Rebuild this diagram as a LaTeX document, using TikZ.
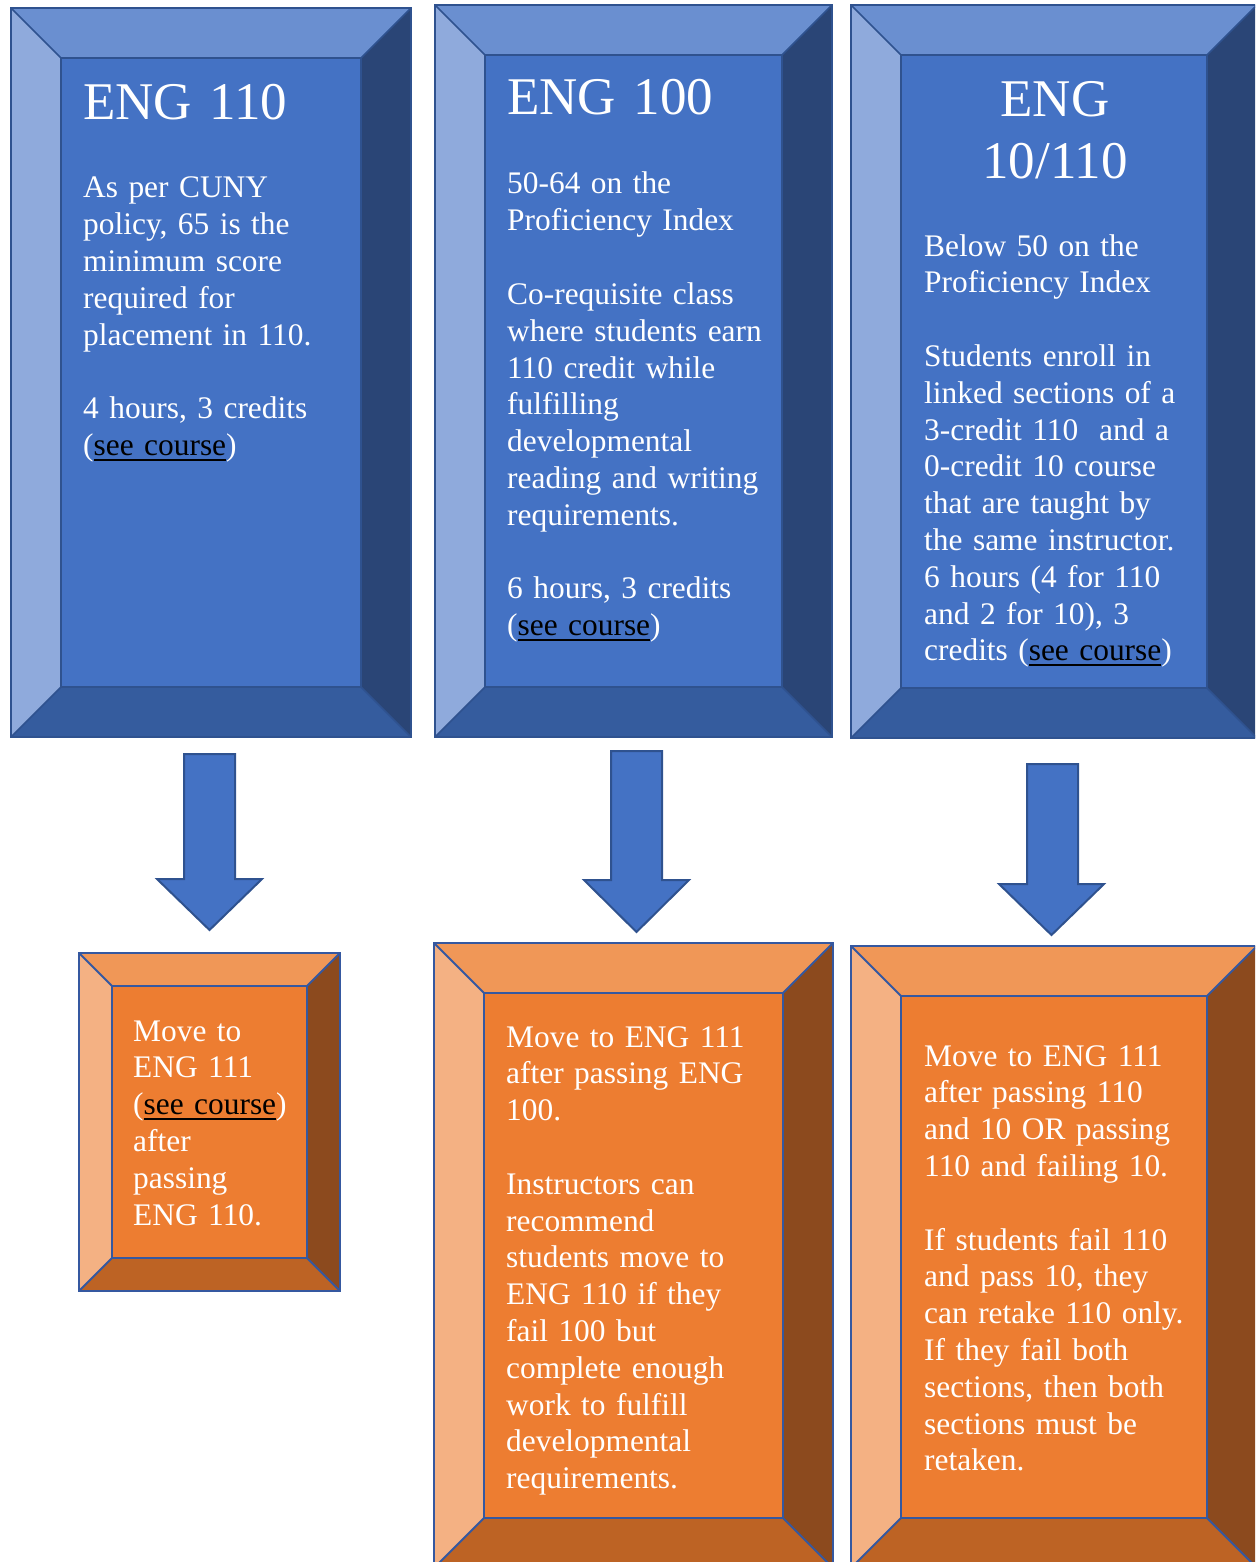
\documentclass[tikz,border=0pt]{standalone}
\usepackage{fontspec}
\setmainfont{Liberation Serif}
\definecolor{bmain}{HTML}{4472C4}
\definecolor{btop}{HTML}{6A8FD0}
\definecolor{bleft}{HTML}{8FAADC}
\definecolor{bright}{HTML}{2A4576}
\definecolor{bbot}{HTML}{355C9E}
\definecolor{bline}{HTML}{2F528F}
\definecolor{omain}{HTML}{ED7D31}
\definecolor{otop}{HTML}{F09757}
\definecolor{oleft}{HTML}{F4B183}
\definecolor{oright}{HTML}{8C4A1E}
\definecolor{obot}{HTML}{BD6324}
\definecolor{oline}{HTML}{3558A0}
% #1 x1, #2 y1, #3 x2, #4 y2, #5 bevel, #6 colour prefix, #7 line width
\newcommand\bvbox[7]{%
  \fill[#6top]   (#1,#2) -- (#3,#2) -- (#3-#5,#2+#5) -- (#1+#5,#2+#5) -- cycle;
  \fill[#6left]  (#1,#2) -- (#1+#5,#2+#5) -- (#1+#5,#4-#5) -- (#1,#4) -- cycle;
  \fill[#6right] (#3,#2) -- (#3,#4) -- (#3-#5,#4-#5) -- (#3-#5,#2+#5) -- cycle;
  \fill[#6bot]   (#1,#4) -- (#1+#5,#4-#5) -- (#3-#5,#4-#5) -- (#3,#4) -- cycle;
  \fill[#6main]  (#1+#5,#2+#5) rectangle (#3-#5,#4-#5);
  \draw[#6line, line width=#7] (#1,#2) rectangle (#3,#4);
  \draw[#6line, line width=#7] (#1+#5,#2+#5) rectangle (#3-#5,#4-#5);
  \draw[#6line, line width=#7] (#1,#2) -- (#1+#5,#2+#5) (#3,#2) -- (#3-#5,#2+#5)
        (#1,#4) -- (#1+#5,#4-#5) (#3,#4) -- (#3-#5,#4-#5);
}
% block arrow: #1 shaft left, #2 shaft right, #3 top, #4 shoulder, #5 head left, #6 head right, #7 tip y
\newcommand\blkarrow[7]{%
  \draw[bline, fill=bmain, line width=2pt, line join=miter]
    (#1,#3) -- (#2,#3) -- (#2,#4) -- (#6,#4) -- ({(#5+#6)/2},#7) -- (#5,#4) -- (#1,#4) -- cycle;
}
\newcommand\seecourse{{\color{black}\setbox0\hbox{see course}\rlap{\rule[-5pt]{\wd0}{2pt}}\box0}}
\begin{document}
\frenchspacing
\begin{tikzpicture}[x=1pt,y=-1pt,
  txt/.style={anchor=base west, inner sep=0pt, text=white, text width=420pt, align=left,
              font=\frenchspacing\fontsize{31.4}{36.8}\selectfont},
  ttl/.style={anchor=base west, inner sep=0pt, text=white, text width=420pt, align=left,
              font=\frenchspacing\fontsize{53}{62}\selectfont}]
\useasboundingbox (0,0) rectangle (1255,1562);
\clip (0,0) rectangle (1255,1562);
% blue boxes
\bvbox{11}{8}{411}{737}{50}{b}{1.5pt}
\bvbox{435}{5}{832}{737}{50}{b}{1.5pt}
\bvbox{851}{5}{1257}{738}{50}{b}{1.5pt}
% arrows
\blkarrow{184}{235}{754}{879}{157}{262}{930}
\blkarrow{611}{662}{751}{880}{584}{689}{932}
\blkarrow{1027}{1078}{764}{884}{999}{1104}{935}
% orange boxes
\bvbox{79}{953}{340}{1291}{33}{o}{2pt}
\bvbox{434}{943}{833}{1568}{50}{o}{2pt}
\bvbox{851}{946}{1257}{1568}{50}{o}{2pt}
% texts
\node[ttl] (t1) at (83,120) {ENG 110};
\node[txt] (b1) at (83,198) {As per CUNY\\policy, 65 is the\\minimum score\\required for\\placement in 110.\\[36.8pt]4 hours, 3 credits\\(\seecourse)};
\node[ttl] (t2) at (507,115) {ENG 100};
\node[txt] (b2) at (507,194) {50-64 on the\\Proficiency Index\\[36.8pt]Co-requisite class\\where students earn\\110 credit while\\fulfilling\\developmental\\reading and writing\\requirements.\\[36.8pt]6 hours, 3 credits\\(\seecourse)};
\node[ttl, anchor=base, text width=300pt, align=center] (t3) at (1055,117) {ENG\\10/110};
\node[txt] (b3) at (924,256) {Below 50 on the\\Proficiency Index\\[36.8pt]Students enroll in\\linked sections of a\\3-credit 110~ and a\\0-credit 10 course\\that are taught by\\the same instructor.\\6 hours (4 for 110\\and 2 for 10), 3\\credits (\seecourse)};
\node[txt] (o1) at (133,1041) {Move to\\ENG 111\\(\seecourse)\\after\\passing\\ENG 110.};
\node[txt] (o2) at (506,1047) {Move to ENG 111\\after passing ENG\\100.\\[36.8pt]Instructors can\\recommend\\students move to\\ENG 110 if they\\fail 100 but\\complete enough\\work to fulfill\\developmental\\requirements.};
\node[txt] (o3) at (924,1066) {Move to ENG 111\\after passing 110\\and 10 OR passing\\110 and failing 10.\\[36.8pt]If students fail 110\\and pass 10, they\\can retake 110 only.\\If they fail both\\sections, then both\\sections must be\\retaken.};
\end{tikzpicture}
\end{document}
